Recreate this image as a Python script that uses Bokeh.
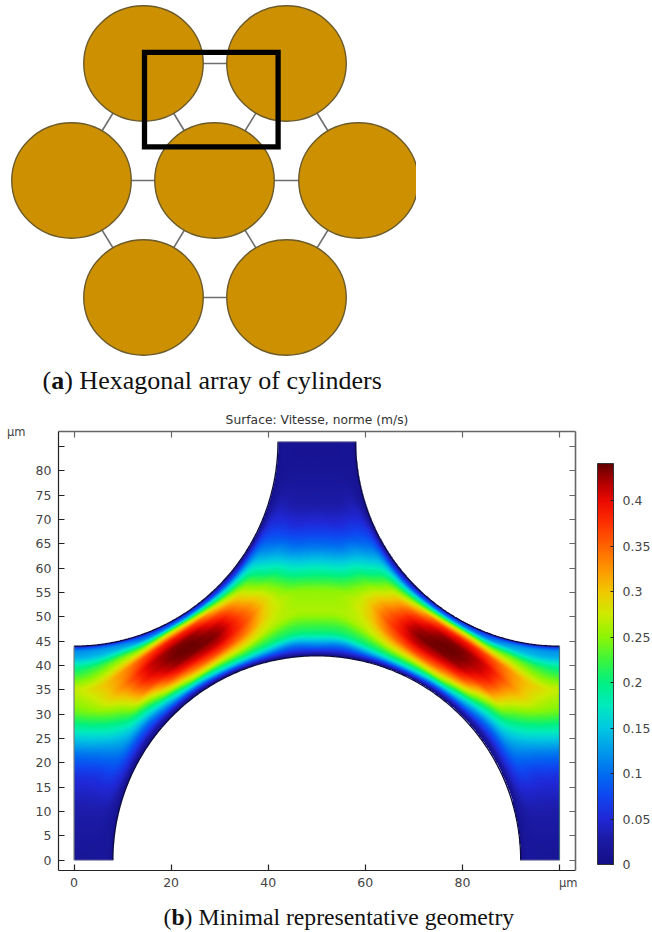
import numpy as np
from bokeh.plotting import figure
from bokeh.layouts import column
from bokeh.models import (Range1d, LinearAxis, FixedTicker, LinearColorMapper, ColorBar, Label)
from bokeh.embed import file_html
from bokeh.resources import INLINE

# ---------- panel (a): array of cylinders (positions read in pixels of the picture) ----------
cyl_x = [143, 286, 71, 214, 358, 143, 286]
cyl_y = [63, 63, 180, 180, 180, 297, 297]
cyl_w = 119.5
cyl_h = 115.5
link_a = [0, 0, 0, 1, 1, 2, 3, 2, 3, 3, 4, 5]
link_b = [1, 2, 3, 3, 4, 3, 4, 5, 5, 6, 6, 6]
window = [144, 277.6, 51.8, 146.3]
crop_x = 415.5

# ---------- panel (b): speed ----------
# columns at x (um); each column gives speed at fractions s of the gap lower wall -> upper wall
x_cols = [0, 5, 10, 15, 20, 25, 30, 35, 40, 45, 50]
s_levels = [0, .05, .1, .2, .3, .4, .5, .6, .7, .8, .9, .95]
v_x0  = [.012, .014, .018, .025, .037, .055, .100, .170, .240, .268, .190, .130]
v_x5  = [.012, .015, .020, .027, .038, .058, .105, .175, .255, .295, .220, .140]
v_x10 = [.020, .025, .040, .070, .110, .150, .205, .270, .330, .325, .235, .145]
v_x15 = [.010, .020, .045, .095, .165, .250, .350, .400, .410, .365, .215, .120]
v_x20 = [.010, .040, .085, .170, .285, .375, .425, .438, .435, .395, .265, .140]
v_x25 = [.010, .060, .125, .265, .345, .405, .438, .441, .430, .375, .235, .130]
v_x30 = [.020, .100, .175, .275, .370, .420, .435, .415, .360, .275, .155, .080]
v_x35 = [.030, .120, .195, .285, .345, .370, .350, .305, .262, .195, .110, .055]
v_x40 = [.030, .120, .200, .265, .285, .280, .235, .170, .110, .070, .040, .020]
v_x45 = [.030, .100, .200, .263, .252, .175, .100, .050, .026, .017, .012, .011]
v_x50 = [.030, .120, .200, .263, .252, .180, .105, .055, .028, .018, .012, .011]
speed_columns = [v_x0, v_x5, v_x10, v_x15, v_x20, v_x25, v_x30, v_x35, v_x40, v_x45, v_x50]

wall_r = 42
wall_centres = [(50, 0), (0, 86), (100, 86)]
top_y = 86
foot_x = 8
inlet_x = 42

# colour scale
cb_values = [0, .03, .05, .075, .1, .125, .15, .175, .2, .225, .25, .275, .3, .325, .35, .375, .4, .42, .441]
cb_colors = [(20, 15, 135), (28, 28, 170), (32, 40, 215), (15, 70, 240), (0, 110, 240), (0, 155, 235),
             (0, 200, 225), (0, 235, 190), (0, 240, 130), (60, 245, 60), (140, 245, 5), (205, 235, 0),
             (240, 200, 0), (255, 150, 0), (255, 100, 0), (255, 50, 0), (235, 10, 0), (180, 0, 0), (100, 0, 0)]
cb_ticks = [0, .05, .1, .15, .2, .25, .3, .35, .4]
cb_max = 0.441

x_ticks = [0, 20, 40, 60, 80, 100]
y_ticks = list(range(0, 90, 5))
unit_label = "µm"
title_text = "Surface: Vitesse, norme (m/s)"
caption_a = [("(", "normal"), ("a", "bold"), (") Hexagonal array of cylinders", "normal")]
caption_b = [("(", "normal"), ("b", "bold"), (") Minimal representative geometry", "normal")]

GREY = "#444444"
FONT = "DejaVu Sans"
SERIF = "Liberation Serif"

# ---------- panel (a) ----------
W, HA, HB, HC = 652, 398, 498, 36
a = figure(width=W, height=HA, x_range=Range1d(0, W), y_range=Range1d(HA, 0), output_backend="svg",
           toolbar_location=None, min_border=0, outline_line_color=None, frame_align=False)
a.axis.visible = False
a.grid.visible = False
a.segment([cyl_x[i] for i in link_a], [cyl_y[i] for i in link_a],
          [cyl_x[i] for i in link_b], [cyl_y[i] for i in link_b], line_color="#6e6e6e", line_width=1.6)
a.ellipse(cyl_x, cyl_y, width=cyl_w, height=cyl_h, fill_color="#CC9000", line_color="#6b5a2a", line_width=1.4)
a.quad(left=[crop_x], right=[W], top=[0], bottom=[HA], fill_color="white", line_color=None)
a.quad(left=[window[0]], right=[window[1]], top=[window[2]], bottom=[window[3]], fill_alpha=0,
       line_color="black", line_width=5.3, line_join="miter")
for (txt, style), xp in zip(caption_a, [42, 50.7, 63.7]):
    a.add_layout(Label(x=xp, y=380, text=txt, text_font=SERIF, text_font_size="26px", text_font_style=style,
                       text_color="#111111", text_baseline="middle", text_align="left"))

# ---------- panel (b) ----------
b = figure(width=W, height=HB, x_range=Range1d(-3.2, 103.3), y_range=Range1d(-2.1, 88.1), output_backend="svg",
           toolbar_location=None, min_border_left=58, min_border_right=77, min_border_top=33, min_border_bottom=26,
           outline_line_color=None, x_axis_location=None, y_axis_location=None, frame_align=False)
b.grid.visible = False

def lower(x):
    return np.where(x < foot_x, 0.0, np.sqrt(np.maximum(wall_r**2 - (50 - x)**2, 0)))

def upper(x):
    return np.where(x <= inlet_x, top_y - np.sqrt(np.maximum(wall_r**2 - x**2, 0)), float(top_y))

# Shading only: the read table is resampled and softened so that the surface is drawn smoothly.
fx = np.linspace(0, 50, 401)
fs = np.linspace(0, 1, 401)

def smooth_1d(arr, n):
    p = np.pad(arr, n, mode="reflect")
    k = np.ones(2 * n + 1) / (2 * n + 1)
    return np.convolve(p, k, mode="same")[n:-n]

yl_ref = smooth_1d(smooth_1d(lower(fx), 40), 40)
yu_ref = smooth_1d(smooth_1d(upper(fx), 40), 40)

cols_s = []
for xc, col in zip(x_cols, speed_columns):
    xa = np.array([float(xc)])
    ys = lower(xa)[0] + np.array(s_levels) * (upper(xa)[0] - lower(xa)[0])
    i = int(round(xc / 50 * (len(fx) - 1)))
    sr = (ys - yl_ref[i]) / (yu_ref[i] - yl_ref[i])
    cols_s.append(np.interp(fs, sr, col))
t1 = np.array(cols_s)
t2 = np.array([np.interp(fx, x_cols, t1[:, j]) for j in range(len(fs))]).T  # [x, s]

def soften(arr, nx, ns):
    p = np.pad(arr, ((nx, nx), (ns, ns)), mode="reflect")
    kx = np.ones(2 * nx + 1) / (2 * nx + 1)
    ks = np.ones(2 * ns + 1) / (2 * ns + 1)
    p = np.apply_along_axis(lambda r: np.convolve(r, kx, mode="same"), 0, p)
    p = np.apply_along_axis(lambda r: np.convolve(r, ks, mode="same"), 1, p)
    return p[nx:-nx, ns:-ns]

t3 = soften(soften(t2, 12, 3), 12, 3)

px = np.linspace(0, 100, 972)
py = np.linspace(0, top_y, 838)
X, Y = np.meshgrid(px, py)
Xm = 50 - np.abs(X - 50)
ix = Xm / 50 * (len(fx) - 1)
i0 = np.minimum(ix.astype(int), len(fx) - 2)
dx = ix - i0
yl = yl_ref[i0] * (1 - dx) + yl_ref[i0 + 1] * dx
yu = yu_ref[i0] * (1 - dx) + yu_ref[i0 + 1] * dx
S = np.clip((Y - yl) / (yu - yl), 0, 1)
iz = S * (len(fs) - 1)
j0 = np.minimum(iz.astype(int), len(fs) - 2)
dz = iz - j0
field = (t3[i0, j0] * (1 - dx) * (1 - dz) + t3[i0 + 1, j0] * dx * (1 - dz)
         + t3[i0, j0 + 1] * (1 - dx) * dz + t3[i0 + 1, j0 + 1] * dx * dz)
dist = np.min([np.hypot(X - cx, Y - cy) - wall_r for cx, cy in wall_centres], axis=0)
field = field * (1 - np.exp(-np.maximum(dist, 0) / 0.55))
field = np.where(dist >= 0, np.minimum(field, cb_max), np.nan)

grid = np.linspace(0, cb_max, 256)
cols = np.array(cb_colors, dtype=float)
palette = ["#%02x%02x%02x" % tuple(int(round(np.interp(g, cb_values, cols[:, k]))) for k in range(3)) for g in grid]
mapper = LinearColorMapper(palette=palette, low=0, high=cb_max, nan_color="rgba(0,0,0,0)")
b.image(image=[field], x=0, y=0, dw=100, dh=top_y, color_mapper=mapper)

# walls and edges
for (cx, cy), (t0, t1_) in zip(wall_centres, [(180, 0), (-90, 0), (180, 270)]):
    t = np.radians(np.linspace(t0, t1_, 240))
    b.line(cx + wall_r * np.cos(t), cy + wall_r * np.sin(t), line_color="#0c0c3a", line_width=1.2)
b.line([0, 0], [0, 44], line_color="#6f7f78", line_width=1.2)
b.line([100, 100], [0, 44], line_color="#3f6f78", line_width=1.2)
b.line([0, foot_x], [0, 0], line_color="#9a9ab0", line_width=1)
b.line([100 - foot_x, 100], [0, 0], line_color="#9a9ab0", line_width=1)
b.line([inlet_x, 100 - inlet_x], [top_y, top_y], line_color="#8a8aa0", line_width=1)

def style_axis(ax, color, width):
    ax.major_tick_in = 6
    ax.major_tick_out = 0
    ax.minor_tick_line_color = None
    ax.axis_line_color = color
    ax.axis_line_width = width
    ax.major_tick_line_color = color
    ax.major_tick_line_width = 1.2
    ax.major_label_text_font = FONT
    ax.major_label_text_font_size = "12.5px"
    ax.major_label_text_color = GREY
    ax.major_label_standoff = 7

bottom = LinearAxis(ticker=FixedTicker(ticks=x_ticks), major_label_overrides={100: ""})
left = LinearAxis(ticker=FixedTicker(ticks=y_ticks), major_label_overrides={85: ""})
top = LinearAxis(ticker=FixedTicker(ticks=x_ticks), major_label_overrides={t: "" for t in x_ticks},
                 axis_label=title_text)
right = LinearAxis(ticker=FixedTicker(ticks=y_ticks), major_label_overrides={t: "" for t in y_ticks})
style_axis(bottom, "#222222", 1.2)
style_axis(left, "#222222", 1.2)
style_axis(top, "#666666", 1.6)
style_axis(right, "#666666", 1.6)
top.axis_label_text_font = FONT
top.axis_label_text_font_size = "12.3px"
top.axis_label_text_font_style = "normal"
top.axis_label_text_color = "#333333"
top.axis_label_standoff = 5
top.major_label_standoff = 0
b.add_layout(bottom, "below")
b.add_layout(left, "left")
b.add_layout(top, "above")
b.add_layout(right, "right")

# the two unit marks are tick labels of their own small axes
unit_left = LinearAxis(ticker=FixedTicker(ticks=[87.9]), major_label_overrides={87.9: unit_label})
unit_below = LinearAxis(ticker=FixedTicker(ticks=[101.8]), major_label_overrides={101.8: unit_label})
for ax in (unit_left, unit_below):
    ax.axis_line_color = None
    ax.major_tick_line_color = None
    ax.minor_tick_line_color = None
    ax.major_tick_in = 0
    ax.major_tick_out = 0
    ax.major_label_text_font = FONT
    ax.major_label_text_font_size = "11.5px"
    ax.major_label_text_color = GREY
unit_left.major_label_standoff = 7
unit_below.major_label_standoff = -14
b.add_layout(unit_left, "left")
b.add_layout(unit_below, "below")

cbar = ColorBar(color_mapper=mapper, width=16, height=401, location=(539, 6), padding=0,
                ticker=FixedTicker(ticks=cb_ticks), background_fill_alpha=0, border_line_color=None,
                bar_line_color="#333333", major_tick_line_color="#222222", major_tick_in=3,
                minor_tick_line_color=None, label_standoff=9, major_label_text_font=FONT,
                major_label_text_font_size="12.5px", major_label_text_color=GREY)
b.add_layout(cbar)

# ---------- caption of panel (b) ----------
c = figure(width=W, height=HC, x_range=Range1d(0, W), y_range=Range1d(932, 896), output_backend="svg",
           toolbar_location=None, min_border=0, outline_line_color=None, frame_align=False)
c.axis.visible = False
c.grid.visible = False
for (txt, style), xp in zip(caption_b, [163, 170.9, 184.1]):
    c.add_layout(Label(x=xp, y=916, text=txt, text_font=SERIF, text_font_size="23.7px", text_font_style=style,
                       text_color="#111111", text_baseline="middle", text_align="left"))

page = column(a, b, c, spacing=0)
open("out.html", "w").write(file_html(page, INLINE))
